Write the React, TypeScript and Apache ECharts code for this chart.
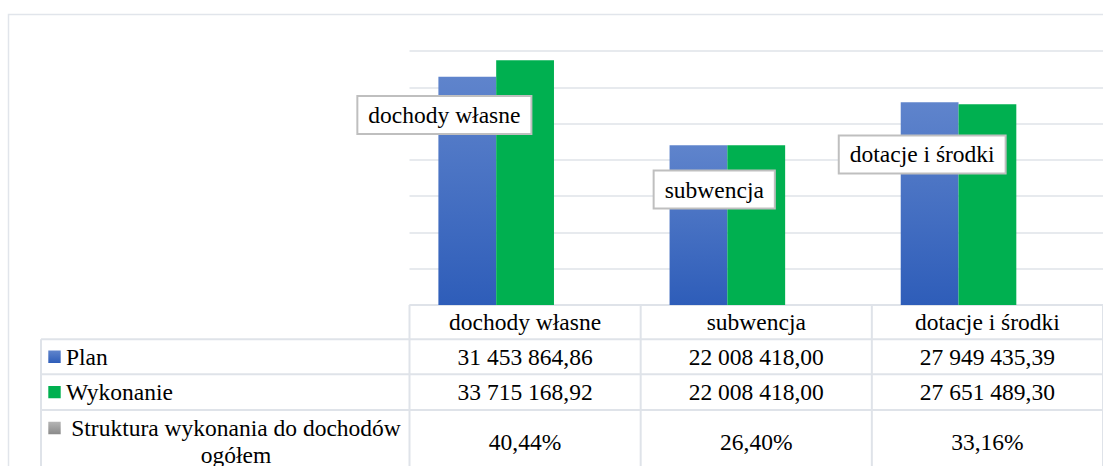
import React, { useEffect, useRef } from "react";
import * as echarts from "echarts";

// ---- data ----
const categories = ["dochody własne", "subwencja", "dotacje i środki"];
const planValues = [31453864.86, 22008418.0, 27949435.39];
const wykonanieValues = [33715168.92, 22008418.0, 27651489.3];
const strukturaPercent = [40.44, 26.4, 33.16];
const seriesNames = ["Plan", "Wykonanie", "Struktura wykonania do dochodów ogółem"];
const seriesRowLabels = ["Plan", "Wykonanie", "Struktura wykonania do dochodów\nogółem"];
const axisMax = 35000000;
const axisInterval = 5000000;

// ---- layout / style ----
const FONT_FAMILY = "Liberation Serif";
const FONT_SIZE = 23.5;
const LINE_COLOR = "#dfe3e9";
const LABEL_OFFSETS: [number, number][] = [
  [-138.5, -190],
  [-99.8, -115.5],
  [-123, -150.6],
];
const ROW_HEIGHTS = [34.3, 35, 35.7, 63];
const TABLE_LEFT = 41;
const KEY_X = 48.3;
const KEY_SIZE = 12.4;
const ROW_TEXT_X = 66;
const ROW_LABEL_CENTER_X = 236;

const planGradient = () =>
  new echarts.graphic.LinearGradient(0, 0, 0, 1, [
    { offset: 0, color: "#5f84cc" },
    { offset: 1, color: "#2e5db9" },
  ]);
const greyGradient = () =>
  new echarts.graphic.LinearGradient(0, 0, 0, 1, [
    { offset: 0, color: "#b5b5b5" },
    { offset: 1, color: "#8a8a8a" },
  ]);
const GREEN = "#00b050";

const fmtMoney = (v: number) => {
  const [i, d] = v.toFixed(2).split(".");
  return i.replace(/\B(?=(\d{3})+(?!\d))/g, " ") + "," + d;
};
const fmtPct = (v: number) => v.toFixed(2).replace(".", ",") + "%";

const textEl = (text: string, x: number, y: number, align: string) => ({
  type: "text",
  x,
  y,
  silent: true,
  style: {
    text,
    fontFamily: FONT_FAMILY,
    fontSize: FONT_SIZE,
    fill: "#000",
    align,
    verticalAlign: "middle",
    textAlign: align,
    textVerticalAlign: "middle",
    lineHeight: 27,
  },
});

export default function App() {
  const ref = useRef<HTMLDivElement>(null);

  useEffect(() => {
    if (!ref.current) return;
    const chart = echarts.init(ref.current, undefined, { renderer: "svg" });

    const option: any = {
      animation: false,
      backgroundColor: "#ffffff",
      textStyle: { fontFamily: FONT_FAMILY },
      grid: { left: 409.5, top: 51, width: 708.5, height: 254, containLabel: false },
      xAxis: {
        type: "category",
        data: categories,
        axisLine: { show: false },
        axisTick: { show: false },
        axisLabel: { show: false },
        splitLine: { show: false },
      },
      yAxis: {
        type: "value",
        min: 0,
        max: axisMax,
        interval: axisInterval,
        axisLine: { show: false },
        axisTick: { show: false },
        axisLabel: { show: false },
        splitLine: { show: true, lineStyle: { color: LINE_COLOR, width: 1.5 } },
      },
      series: [
        {
          name: seriesNames[0],
          type: "bar",
          data: planValues,
          barGap: "0%",
          barCategoryGap: "25%",
          itemStyle: { color: planGradient() },
        },
        {
          name: seriesNames[1],
          type: "bar",
          data: wykonanieValues,
          barGap: "0%",
          barCategoryGap: "25%",
          itemStyle: { color: GREEN },
        },
        {
          name: seriesNames[2],
          type: "bar",
          data: strukturaPercent.map((v, i) => ({
            value: v / 100,
            label: { offset: LABEL_OFFSETS[i] },
          })),
          barGap: "0%",
          barCategoryGap: "25%",
          itemStyle: { color: greyGradient() },
          label: {
            show: true,
            position: "inside",
            formatter: "{b}",
            fontFamily: FONT_FAMILY,
            fontSize: FONT_SIZE,
            color: "#000",
            backgroundColor: "#ffffff",
            borderColor: "#bfbfbf",
            borderWidth: 2,
            padding: [5, 10, 4, 10],
            lineHeight: 27,
          },
        },
      ],
    };
    chart.setOption(option);

    const cx = categories.map(
      (c) => chart.convertToPixel({ xAxisIndex: 0 }, c) as unknown as number
    );
    const baseY = chart.convertToPixel({ yAxisIndex: 0 }, 0) as unknown as number;
    const step = cx[1] - cx[0];
    const colEdges = [cx[0] - step / 2, ...cx.map((c) => c + step / 2)];
    const rowEdges = [baseY];
    ROW_HEIGHTS.forEach((h) => rowEdges.push(rowEdges[rowEdges.length - 1] + h));
    const rowCenter = (r: number) => (rowEdges[r] + rowEdges[r + 1]) / 2;
    const farRight = 1300;
    const farBottom = rowEdges[rowEdges.length - 1] + 20;

    const lineStyle = { stroke: LINE_COLOR, lineWidth: 2 };
    const elements: any[] = [];

    // outer chart-area border
    elements.push({
      type: "rect",
      shape: { x: 8.5, y: 14.5, width: 1300, height: 600 },
      style: { fill: "none", stroke: "#e1e5eb", lineWidth: 1.5 },
      silent: true,
    });

    // horizontal table lines
    elements.push({
      type: "line",
      shape: { x1: colEdges[0], y1: rowEdges[0], x2: farRight, y2: rowEdges[0] },
      style: lineStyle,
      silent: true,
    });
    for (let r = 1; r < rowEdges.length - 1; r++) {
      elements.push({
        type: "line",
        shape: { x1: TABLE_LEFT, y1: rowEdges[r], x2: farRight, y2: rowEdges[r] },
        style: lineStyle,
        silent: true,
      });
    }
    // vertical table lines
    colEdges.forEach((x) =>
      elements.push({
        type: "line",
        shape: { x1: x, y1: rowEdges[0], x2: x, y2: farBottom },
        style: lineStyle,
        silent: true,
      })
    );
    elements.push({
      type: "line",
      shape: { x1: TABLE_LEFT, y1: rowEdges[1], x2: TABLE_LEFT, y2: farBottom },
      style: lineStyle,
      silent: true,
    });

    // header
    categories.forEach((c, i) => elements.push(textEl(c, cx[i], rowCenter(0), "center")));

    // rows
    const rowValues = [
      planValues.map(fmtMoney),
      wykonanieValues.map(fmtMoney),
      strukturaPercent.map(fmtPct),
    ];
    const keyFills = [planGradient(), GREEN, greyGradient()];
    seriesRowLabels.forEach((label, s) => {
      const yc = rowCenter(s + 1);
      const keyY = s === 2 ? yc - 13.5 : yc;
      elements.push({
        type: "rect",
        shape: { x: KEY_X, y: keyY - KEY_SIZE / 2, width: KEY_SIZE, height: KEY_SIZE },
        style: { fill: keyFills[s] },
        silent: true,
      });
      if (s === 2) {
        elements.push(textEl(label, ROW_LABEL_CENTER_X, yc, "center"));
      } else {
        elements.push(textEl(label, ROW_TEXT_X, yc, "left"));
      }
      rowValues[s].forEach((v, i) => elements.push(textEl(v, cx[i], yc, "center")));
    });

    chart.setOption({ graphic: { elements } });

    return () => chart.dispose();
  }, []);

  return (
    <div
      ref={ref}
      style={{
        position: "fixed",
        left: 0,
        top: 0,
        width: 1103,
        height: 466,
        overflow: "hidden",
        background: "#fff",
      }}
    />
  );
}
